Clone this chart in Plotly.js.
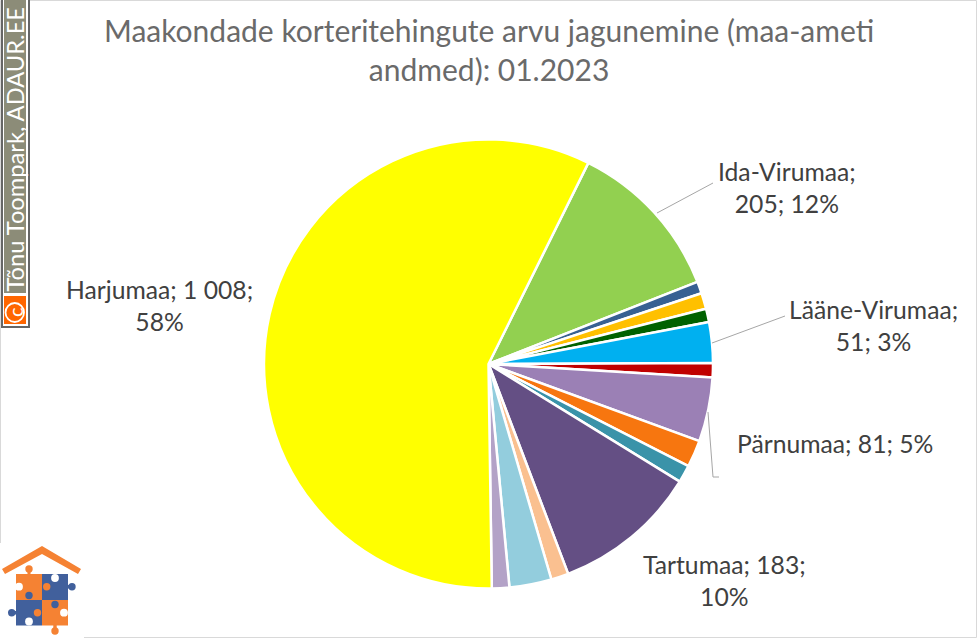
<!DOCTYPE html>
<html><head><meta charset="utf-8">
<script src="https://cdn.plot.ly/plotly-3.0.1.min.js"></script>
<style>html,body{margin:0;padding:0;background:#fff}#c{width:977px;height:638px}</style></head>
<body><div id="c"></div>
<script>
const W = 977, H = 638;
const titleText = "Maakondade korteritehingute arvu jagunemine (maa-ameti<br>andmed): 01.2023";
const creditText = "Tõnu Toompark, ADAUR.EE";
const regions = ["Ida-Virumaa","Jõgevamaa","Järvamaa","Läänemaa","Lääne-Virumaa","Põlvamaa","Pärnumaa","Raplamaa","Saaremaa","Tartumaa","Valgamaa","Viljandimaa","Võrumaa","Harjumaa"];
const deals = [205,15,20,17,51,18,81,34,22,183,22,53,22,1008];
const sliceColors = ["#92D050","#376092","#FFC000","#006100","#00B0F0","#C00000","#9B80B5","#F7760F","#3A93A9","#644F84","#FAC090","#93CDDD","#B3A2C7","#FFFF00"];
const labelTexts = ["Ida-Virumaa;<br>205; 12%","Lääne-Virumaa;<br>51; 3%","Pärnumaa; 81; 5%","Tartumaa; 183;<br>10%","Harjumaa; 1 008;<br>58%"];
const labelX = [787,873,834.5,724.5,159];
const labelY = [187,325,443,580,306];

const px = x => x / W, py = y => 1 - y / H;
const line = (pts, color, width) => ({type:"path", xref:"paper", yref:"paper",
  path: pts.map((p,i)=>(i?"L":"M")+px(p[0])+" "+py(p[1])).join(" "), line:{color:color,width:width}});
const poly = (pts, color) => ({type:"path", xref:"paper", yref:"paper",
  path: pts.map((p,i)=>(i?"L":"M")+px(p[0])+" "+py(p[1])).join(" ")+" Z", fillcolor:color, line:{width:0}});
const rect = (x0,y0,x1,y1,fill,lc,lw) => ({type:"rect", xref:"paper", yref:"paper",
  x0:px(x0),x1:px(x1),y0:py(y0),y1:py(y1),fillcolor:fill,line:{color:lc||fill,width:lw===undefined?0:lw}});
const dot = (x,y,r,fill) => ({type:"circle", xref:"paper", yref:"paper",
  x0:px(x-r),x1:px(x+r),y0:py(y+r),y1:py(y-r),fillcolor:fill,line:{width:0}});

const OR="#F58233", BL="#41609C";
const shapes = [
  rect(0.5,0.5,976.5,637.5,"rgba(0,0,0,0)","#D9D9D9",1),
  line([[713,183],[657,213]],"#A6A6A6",1),
  line([[712,343],[785,316]],"#A6A6A6",1),
  line([[708,412],[713,477],[719,477]],"#A6A6A6",1),
  rect(2,-2,29,327,"#fff","#666666",2),
  rect(4,0,26,293,"#8C8C78"),
  rect(4,296,26,324,"#FF6600"),
  {type:"circle",xref:"paper",yref:"paper",x0:px(5.5),x1:px(24),y0:py(322),y1:py(303),fillcolor:"rgba(0,0,0,0)",line:{color:"#fff",width:1.8}},
  rect(0,543,84,638,"#fff"),
  poly([[2,569],[42,546],[81,569],[78,574],[42,554],[5,574]],OR),
  dot(29,569,3.7,OR),
  rect(27.5,570,30.5,575,OR),
  dot(72,586.7,3.7,BL), rect(67,585,71,588.5,BL),
  dot(11.7,612.7,3.7,BL), rect(12,611,17,614.5,BL),
  dot(55,631,3.7,OR), rect(53.3,625,56.7,630,OR),
  rect(16,574,42,600,OR),
  rect(42,574,68,600,BL),
  rect(16,600,42,625.5,BL),
  rect(42,600,68,625.5,OR),
  dot(19,586.7,3.9,"#fff"), dot(46.7,586.7,3.7,OR), dot(55,578,3.9,"#fff"),
  dot(29,595.5,3.7,BL), dot(29,621.5,3.9,"#fff"),
  dot(37.5,612.7,3.7,OR), dot(55,604.5,3.7,BL), dot(64,612.7,3.9,"#fff")
];

const FONT = "Lato, sans-serif", TXT = "#6A6A6A";
const annotations = labelTexts.map((t,i)=>({text:t, xref:"paper", yref:"paper", x:px(labelX[i]), y:py(labelY[i]),
  xanchor:"center", yanchor:"middle", showarrow:false, align:"center",
  font:{family:FONT,size:24.7,color:"#404040"}}));
annotations.push({text:creditText,xref:"paper",yref:"paper",x:px(14),y:py(149.5),textangle:-90,xanchor:"center",yanchor:"middle",showarrow:false,
  font:{family:FONT,size:23.7,color:"#fff"}});
annotations.push({text:"c",xref:"paper",yref:"paper",x:px(14.5),y:py(312.5),xanchor:"center",yanchor:"middle",showarrow:false,textangle:-90,
  font:{family:FONT,size:20,color:"#fff"}});
annotations.push({text:titleText,xref:"paper",yref:"paper",x:px(489),y:py(50),xanchor:"center",yanchor:"middle",showarrow:false,align:"center",
  font:{family:FONT,size:30,color:TXT}});

Plotly.newPlot("c",[{
  type:"pie", labels:regions, values:deals, sort:false, direction:"clockwise", rotation:26.4,
  marker:{colors:sliceColors,line:{color:"#fff",width:2.5}},
  textinfo:"none", hoverinfo:"label+value+percent",
  domain:{x:[264/W,713/W],y:[1-588.5/H,1-139.5/H]}
}],{
  width:W,height:H,margin:{l:0,r:0,t:0,b:0},paper_bgcolor:"#fff",showlegend:false,
  shapes:shapes,annotations:annotations
},{displayModeBar:false,staticPlot:true});
</script></body></html>
